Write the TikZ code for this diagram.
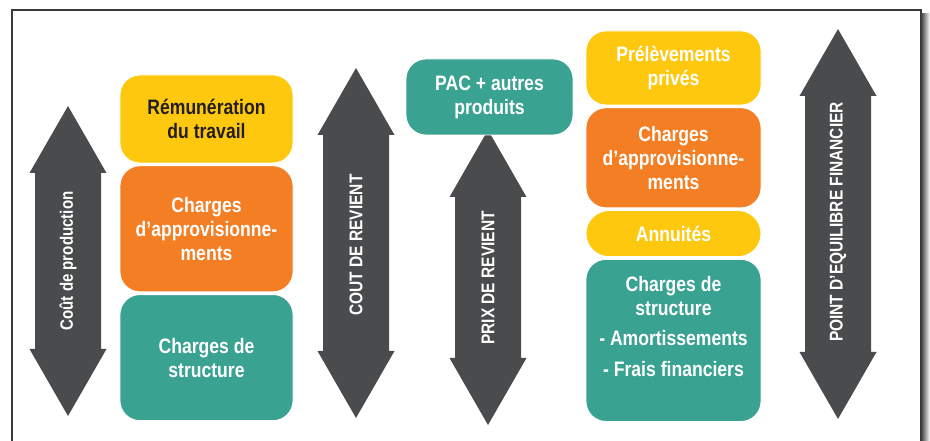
\documentclass[tikz,border=0pt]{standalone}
\usepackage{fontspec}
\setmainfont{Liberation Sans}[FakeStretch=0.84]
\usetikzlibrary{positioning}

\definecolor{jaune}{HTML}{FEC80E}
\definecolor{orange}{HTML}{F47E24}
\definecolor{vert}{HTML}{39A291}
\definecolor{gris}{HTML}{4A4B4D}
\definecolor{texte}{HTML}{231F20}
\definecolor{cadre}{HTML}{3A3A3A}

\begin{document}
\begin{tikzpicture}[
    x=1bp, y=-1bp,
    node distance=2bp,
    bloc/.style={rectangle, draw=white, line width=0.8bp, rounded corners=20bp, align=center, inner sep=0pt, text=white, font=\bfseries\fontsize{21}{24}\selectfont},
    jaunebloc/.style={bloc, fill=jaune},
    orangebloc/.style={bloc, fill=orange},
    vertbloc/.style={bloc, fill=vert},
    fleche/.style={fill=gris},
    etiquette/.style={rotate=90, inner sep=0pt, text=white, font=\bfseries\fontsize{18.5}{20}\selectfont}
]
\useasboundingbox (0,0) rectangle (930,441);

% ============ CADRE ============
\shade[left color=black!75, right color=white] (921,14) rectangle (930,441);
\draw[cadre, line width=1.3bp] (12,460) -- (12,10) -- (921,10) -- (921,460);

% ============ FLECHES ============
\fill[fleche] (68,106) -- ++(38.5,67) -- ++(-5.5,0) -- ++(0,176) -- ++(5.5,0) -- ++(-38.5,67) -- ++(-38.5,-67) -- ++(5.5,0) -- ++(0,-176) -- ++(-5.5,0) -- cycle;
\fill[fleche] (356,68) -- ++(38.5,67) -- ++(-5.5,0) -- ++(0,216) -- ++(5.5,0) -- ++(-38.5,67) -- ++(-38.5,-67) -- ++(5.5,0) -- ++(0,-216) -- ++(-5.5,0) -- cycle;
\fill[fleche] (488,130) -- ++(38.5,67) -- ++(-5.5,0) -- ++(0,161) -- ++(5.5,0) -- ++(-38.5,67) -- ++(-38.5,-67) -- ++(5.5,0) -- ++(0,-161) -- ++(-5.5,0) -- cycle;
\fill[fleche] (838,29) -- ++(38.5,67) -- ++(-5.5,0) -- ++(0,256) -- ++(5.5,0) -- ++(-38.5,67) -- ++(-38.5,-67) -- ++(5.5,0) -- ++(0,-256) -- ++(-5.5,0) -- cycle;

\node[etiquette, font=\bfseries\fontsize{18}{20}\selectfont] (cout-prod) at (68,261) {Coût de production};
\node[etiquette] (cout-rev) at (356,245) {COUT DE REVIENT};
\node[etiquette] (prix-rev) at (488,278) {PRIX DE REVIENT};
\node[etiquette] (equilibre) at (838,222) {POINT D’EQUILIBRE FINANCIER};

% ============ COLONNE COUT ============
\node[jaunebloc, text=texte, minimum width=173bp, minimum height=88bp] (remu) at (206.5,119) {Rémunération\\du travail};
\node[orangebloc, minimum width=173bp, minimum height=126bp, below=of remu] (appro1) {Charges\\d’approvisionne-\\ments};
\node[vertbloc, minimum width=173bp, minimum height=126bp, below=of appro1] (struct1) {Charges de\\structure};

% ============ PRODUITS ============
\node[vertbloc, minimum width=167bp, minimum height=76bp] (pac) at (489.5,97) {PAC + autres\\produits};

% ============ COLONNE EQUILIBRE ============
\node[jaunebloc, minimum width=175bp, minimum height=74bp] (prelev) at (673.5,68) {Prélèvements\\privés};
\node[orangebloc, minimum width=175bp, minimum height=100bp, below=of prelev] (appro2) {Charges\\d’approvisionne-\\ments};
\node[jaunebloc, rounded corners=23bp, minimum width=175bp, minimum height=46bp, below=of appro2] (annuites) {Annuités};
\node[vertbloc, minimum width=175bp, minimum height=162bp, below=of annuites] (struct2) {Charges de\\structure\\[7bp]- Amortissements\\[7bp]- Frais financiers\\[4bp]};

\end{tikzpicture}
\end{document}
